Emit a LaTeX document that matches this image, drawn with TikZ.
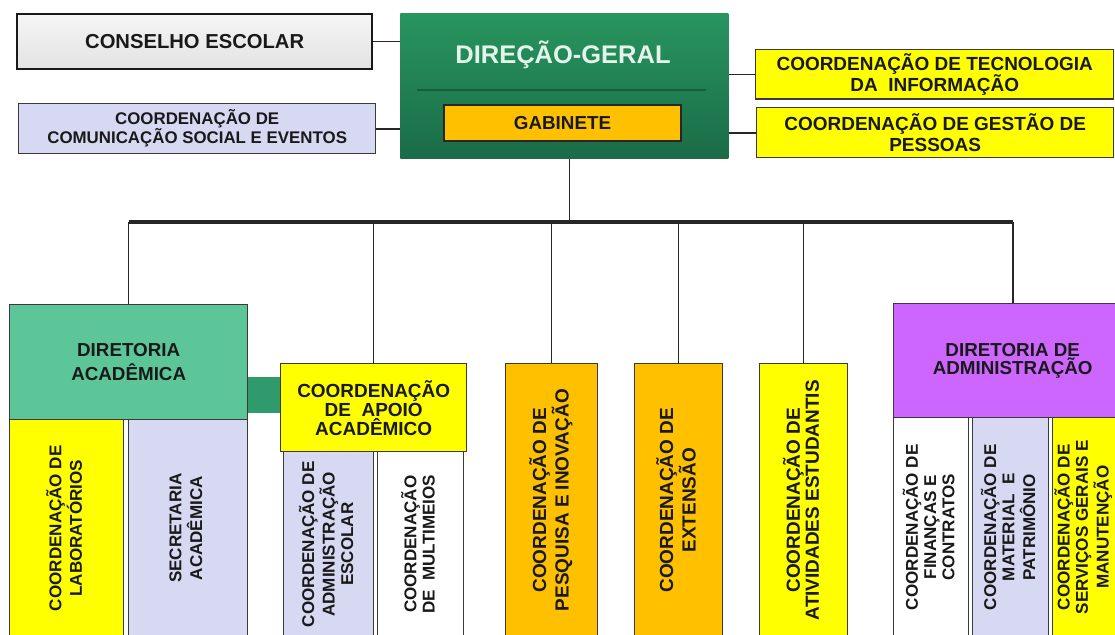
\documentclass[tikz,border=0pt]{standalone}
\usepackage{fontspec}
\setmainfont{Liberation Sans}
\usepackage{xcolor}
\usepackage{graphicx}
\usetikzlibrary{positioning, calc}
\definecolor{dggreen}{HTML}{28955F}
\definecolor{dggreendk}{HTML}{1A6C48}
\definecolor{dgsep}{HTML}{14603E}
\definecolor{dgtext}{HTML}{E4F4EA}
\definecolor{gabyellow}{HTML}{FFC000}
\definecolor{cyellow}{HTML}{FFFF00}
\definecolor{clav}{HTML}{D7D9F3}
\definecolor{acadgreen}{HTML}{5CC699}
\definecolor{linkgreen}{HTML}{2F9A6B}
\definecolor{admpurple}{HTML}{CC66FF}
\definecolor{boxline}{HTML}{3A3A3A}
\newcommand{\vtxt}[1]{\rotatebox{90}{\begin{tabular}{@{}c@{}}#1\end{tabular}}}

\begin{document}
\begin{tikzpicture}[x=0.2mm, y=-0.2mm,
    box/.style ={draw=boxline, line width=0.8pt, anchor=north west, inner sep=2pt,
                 align=center, text=black!90,
                 font=\bfseries\fontsize{10.8}{12.3}\selectfont},
    vbox/.style={draw=boxline, line width=0.8pt, anchor=north west, inner sep=1pt,
                 text=black!90, font=\bfseries\fontsize{9.7}{10.4}\selectfont},
    vbig/.style={vbox, font=\bfseries\fontsize{10.8}{10.6}\selectfont},
    tree/.style={draw=black!85, line width=0.9pt},
    bus/.style ={tree, line width=1.8pt},
]
\useasboundingbox (0,0) rectangle (1115,634);
\clip (0,0) rectangle (1115,634);

% top level
\node[box, minimum width=71mm, minimum height=11mm, line width=1.3pt, draw=black!90,
      top color=gray!8, bottom color=gray!22,
      font=\bfseries\fontsize{11.5}{13}\selectfont] (conselho) at (16,13) {CONSELHO ESCOLAR};
\node[box, fill=clav, minimum width=71.4mm, minimum height=10mm,
      font=\bfseries\fontsize{9.6}{10.8}\selectfont] (comunic) at (18,103)
      {COORDENAÇÃO DE\\COMUNICAÇÃO SOCIAL E EVENTOS};
\node[anchor=north west, minimum width=65.6mm, minimum height=29mm,
      top color=dggreen, bottom color=dggreendk] (direcao) at (400,13) {};
\node[font=\bfseries\fontsize{14.5}{16}\selectfont, text=dgtext] (dgtitle) at (563,55) {DIREÇÃO-GERAL};
\draw[dgsep, line width=1.2pt] ([xshift=3.4mm, yshift=-0.9mm]direcao.west)
   -- ([xshift=-4.6mm, yshift=-0.9mm]direcao.east);
\node[box, anchor=center, fill=gabyellow, draw=black!85, minimum width=47.4mm,
      minimum height=7.2mm, font=\bfseries\fontsize{10.7}{12}\selectfont] (gabinete) at (562.5,123) {GABINETE};
\node[box, fill=cyellow, minimum width=71.6mm, minimum height=9.8mm] (ti) at (755,49)
      {COORDENAÇÃO DE TECNOLOGIA\\DA\ \ INFORMAÇÃO};
\node[box, fill=cyellow, minimum width=71.4mm, minimum height=10mm] (gestao) at (756,107)
      {COORDENAÇÃO DE GESTÃO DE\\PESSOAS};

\draw[tree] (conselho.east) -- (conselho.east -| direcao.west);
\draw[tree] (comunic.east) -- (comunic.east -| direcao.west);
\draw[tree] (ti.west) -- (ti.west -| direcao.east);
\draw[tree] (gestao.west) -- (gestao.west -| direcao.east);

% second level
\coordinate (bus) at (0,222);
\coordinate (link) at (0,395);
\node[box, fill=acadgreen, minimum width=47.6mm, minimum height=23mm,
      font=\bfseries\fontsize{10.7}{13.3}\selectfont] (diracad) at (9,304) {DIRETORIA\\ACADÊMICA};
\node[vbox, fill=cyellow, minimum width=22.8mm, minimum height=43.4mm] (lab) at (9,419)
      {\vtxt{COORDENAÇÃO DE\\LABORATÓRIOS}};
\node[vbox, fill=clav, minimum width=23.8mm, minimum height=43.4mm] (secret) at (128,419)
      {\vtxt{SECRETARIA\\ACADÊMICA}};
\node[box, fill=cyellow, minimum width=37.2mm, minimum height=17.6mm,
      font=\bfseries\fontsize{10.8}{10.8}\selectfont] (apoio) at (280,363)
      {COORDENAÇÃO\\DE\ \ APOIO\\ACADÊMICO};
\node[vbox, fill=clav, minimum width=18mm, minimum height=37mm] (admesc) at (283,451)
      {\vtxt{COORDENAÇÃO DE\\ADMINISTRAÇÃO\\ESCOLAR}};
\node[vbox, fill=white, minimum width=17.2mm, minimum height=37mm] (multi) at (377,451)
      {\vtxt{COORDENAÇÃO\\DE\ \ MULTIMEIOS}};
\node[vbig, fill=gabyellow, minimum width=18.4mm, minimum height=54.6mm] (pesq) at (505,363)
      {\vtxt{COORDENAÇÃO DE\\PESQUISA E INOVAÇÃO}};
\node[vbig, fill=gabyellow, minimum width=17.6mm, minimum height=54.6mm] (ext) at (634,363)
      {\vtxt{COORDENAÇÃO DE\\EXTENSÃO}};
\node[vbig, fill=cyellow, minimum width=17.6mm, minimum height=54.6mm] (ativ) at (759,363)
      {\vtxt{COORDENAÇÃO DE\\ATIVIDADES ESTUDANTIS}};
\node[box, fill=admpurple, minimum width=47.6mm, minimum height=22.8mm,
      font=\bfseries\fontsize{10.7}{10.6}\selectfont] (diradm) at (893,303)
      {DIRETORIA DE\\ADMINISTRAÇÃO};
\node[vbox, fill=white, minimum width=15mm, minimum height=43.8mm] (finan) at (893,417)
      {\vtxt{COORDENAÇÃO DE\\FINANÇAS E\\CONTRATOS}};
\node[vbox, fill=clav, minimum width=15.2mm, minimum height=43.8mm] (mater) at (972,417)
      {\vtxt{COORDENAÇÃO DE\\MATERIAL\ \ E\\PATRIMÔNIO}};
\node[vbox, fill=cyellow, minimum width=12.4mm, minimum height=43.8mm] (serv) at (1052,417)
      {\vtxt{COORDENAÇÃO DE\\SERVIÇOS GERAIS E\\MANUTENÇÃO}};

% connectors
\draw[linkgreen, line width=7.2mm] (diracad.east |- link) -- (apoio.west |- link);
\draw[tree] ([xshift=1mm]direcao.south) -- ([xshift=1mm]direcao.south |- bus);
\draw[bus] (diracad.north |- bus) -- (diradm.north |- bus);
\foreach \n in {diracad, apoio, pesq, ext, ativ, diradm}
  \draw[tree] (\n.north |- bus) -- (\n.north);
\end{tikzpicture}
\end{document}
